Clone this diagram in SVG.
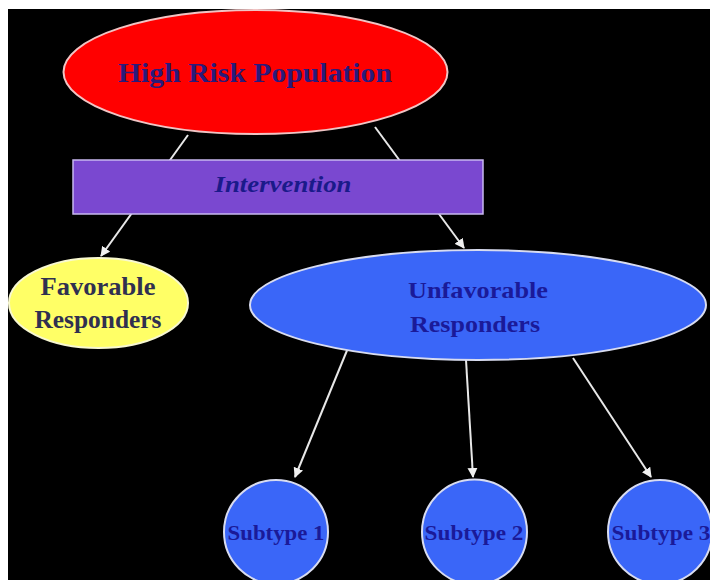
<svg xmlns="http://www.w3.org/2000/svg" width="710" height="580" viewBox="0 0 710 580">
<defs>
<style>
.t{font-family:"Liberation Serif","Times New Roman",serif;font-weight:bold;text-anchor:middle}
.edge{stroke:#e8e8e8;stroke-width:2;fill:none}
.node{stroke:#d8dcf0;stroke-width:2}
</style>
<marker id="arr" viewBox="0 0 10 10" refX="9" refY="5" markerWidth="5" markerHeight="5" orient="auto" markerUnits="strokeWidth">
<path d="M0,0 L10,5 L0,10 z" fill="#f0f0f0"/>
</marker>
</defs>
<rect x="0" y="0" width="710" height="580" fill="#ffffff"/>
<rect x="8" y="9" width="702" height="571" fill="#000000"/>
<g id="connectors">
<line class="edge" x1="188" y1="135" x2="101" y2="256" marker-end="url(#arr)"/>
<line class="edge" x1="375" y1="127" x2="464" y2="248" marker-end="url(#arr)"/>
<line class="edge" x1="348" y1="348" x2="295" y2="477" marker-end="url(#arr)"/>
<line class="edge" x1="466" y1="360" x2="473" y2="477" marker-end="url(#arr)"/>
<line class="edge" x1="573" y1="358" x2="651" y2="477" marker-end="url(#arr)"/>
</g>
<g id="high-risk">
<ellipse cx="255.5" cy="72" rx="192" ry="62" fill="#ff0000" stroke="#f0c4c4" stroke-width="2"/>
<text class="t" x="255" y="82" font-size="28" fill="#2a1a7a" textLength="274" lengthAdjust="spacingAndGlyphs">High Risk Population</text>
</g>
<g id="intervention">
<rect x="73" y="160" width="410" height="54" fill="#7a48d0" stroke="#c8b8f0" stroke-width="1.5"/>
<text class="t" x="283" y="192" font-size="24" font-style="italic" fill="#1a1a8a" textLength="137" lengthAdjust="spacingAndGlyphs">Intervention</text>
</g>
<g id="favorable">
<ellipse cx="98.5" cy="303" rx="89.5" ry="45" fill="#ffff66" stroke="#f8f8d0" stroke-width="2"/>
<text class="t" x="98" y="295" font-size="25" fill="#303050" textLength="115" lengthAdjust="spacingAndGlyphs">Favorable</text>
<text class="t" x="98" y="328" font-size="25" fill="#303050" textLength="127" lengthAdjust="spacingAndGlyphs">Responders</text>
</g>
<g id="unfavorable">
<ellipse cx="478" cy="305" rx="228" ry="55" fill="#3a66f8" class="node"/>
<text class="t" x="478" y="298" font-size="24" fill="#1a1a99" textLength="140" lengthAdjust="spacingAndGlyphs">Unfavorable</text>
<text class="t" x="475" y="332" font-size="24" fill="#1a1a99" textLength="130" lengthAdjust="spacingAndGlyphs">Responders</text>
</g>
<g id="subtype1">
<circle cx="276" cy="532" r="52" fill="#3a66f8" class="node"/>
<text class="t" x="276" y="540" font-size="21" fill="#1a1a99" textLength="97" lengthAdjust="spacingAndGlyphs">Subtype 1</text>
</g>
<g id="subtype2">
<circle cx="474.5" cy="532" r="52.5" fill="#3a66f8" class="node"/>
<text class="t" x="474" y="540" font-size="21" fill="#1a1a99" textLength="99" lengthAdjust="spacingAndGlyphs">Subtype 2</text>
</g>
<g id="subtype3">
<circle cx="660" cy="532" r="52" fill="#3a66f8" class="node"/>
<text class="t" x="661" y="540" font-size="21" fill="#1a1a99" textLength="99" lengthAdjust="spacingAndGlyphs">Subtype 3</text>
</g>
</svg>
